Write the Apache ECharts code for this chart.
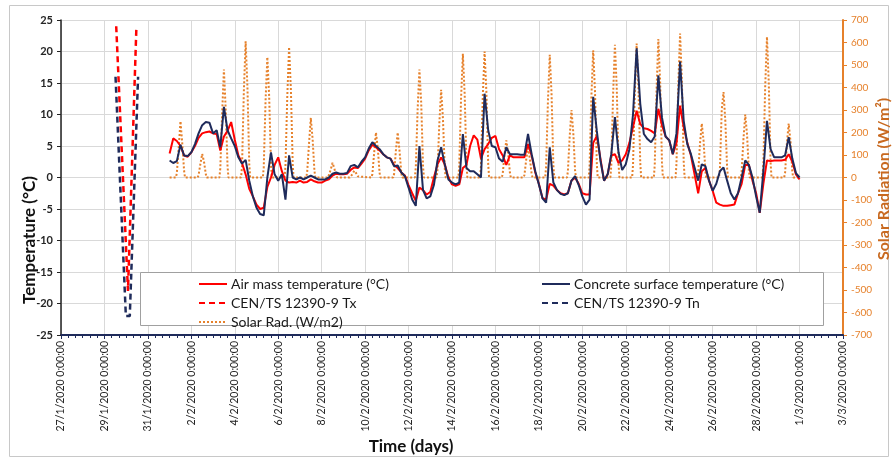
<!DOCTYPE html>
<html>
<head>
<meta charset="utf-8">
<script src="https://cdn.jsdelivr.net/npm/echarts@6/dist/echarts.min.js"></script>
<style>
  html, body { margin: 0; padding: 0; background: #fff; }
  #chart { width: 893px; height: 461px; }
</style>
</head>
<body>
<div id="chart"></div>
<script>
// readings every 4 h from 1/2/2020 0:00 to 1/3/2020 0:00
const airTemp = [
  3.8, 6.2, 5.8, 5.0, 3.5, 3.3,
  4.0, 5.0, 6.3, 7.0, 7.2, 7.3,
  7.0, 6.9, 4.3, 6.5, 7.4, 8.8,
  6.0, 3.5, 2.3, 0.5, -1.8, -3.0,
  -4.3, -5.0, -4.8, -1.5, 0.0, 2.0,
  3.2, 1.0, -0.5, -0.8, -0.7, -0.8,
  -0.5, -0.8, -0.7, -0.3, -0.6, -0.8,
  -0.8, -0.5, -0.3, 0.3, 0.6, 0.5,
  0.5, 0.6, 1.2, 1.6, 1.5, 2.2,
  3.0, 4.3, 5.2, 4.8, 4.3, 3.7,
  3.2, 3.0, 2.0, 1.5, 0.8, 0.3,
  -1.2, -2.5, -3.7, -1.6, -2.0, -2.7,
  -2.3, 0.0, 2.1, 3.2, 2.1, 0.0,
  -1.1, -1.3, -1.1, 1.5, 2.0, 5.0,
  6.7, 6.0, 3.0, 4.5, 5.3, 6.3,
  6.6, 4.5, 3.5, 2.0, 3.5, 3.2,
  3.2, 3.2, 3.2, 5.3, 3.5, 0.8,
  -1.0, -3.3, -3.5, -1.0, -1.3, -2.0,
  -2.5, -2.7, -2.5, -0.5, 0.0, -1.0,
  -2.5, -2.7, -2.7, 5.5, 6.6, 3.0,
  -0.5, 0.5, 3.5, 3.7, 2.3, 2.7,
  3.7, 5.5, 8.0, 10.6, 8.5, 7.8,
  7.7, 7.4, 7.0, 10.9, 8.3, 6.5,
  5.9, 3.7, 5.5, 11.4, 8.0, 5.5,
  3.5, 0.5, -2.5, 1.0, 1.5, -0.5,
  -2.1, -4.0, -4.3, -4.5, -4.5, -4.4,
  -4.3, -2.5, -1.0, 2.0, 2.0, -0.5,
  -2.5, -5.6, -1.0, 2.7, 2.6, 2.7,
  2.7, 2.7, 2.8, 3.7, 2.5, 0.5,
  -0.3
];
const concreteTemp = [
  2.7, 2.3, 2.6, 5.2, 3.5, 3.4,
  4.0, 5.3, 7.0, 8.3, 8.8, 8.7,
  7.0, 7.5, 4.8, 11.2, 7.5, 6.2,
  5.0, 3.2, 2.2, 2.8, -0.5, -3.0,
  -4.8, -5.8, -6.0, 0.0, 4.0, 0.5,
  -0.5, 0.5, -3.5, 3.5, 0.0, -0.3,
  0.0, -0.3, 0.0, 0.3, 0.0, -0.3,
  -0.3, -0.3, 0.0, 0.6, 0.8, 0.6,
  0.6, 0.7, 1.8, 2.0, 1.6, 2.5,
  3.2, 4.6, 5.6, 5.0, 4.5, 3.7,
  3.2, 3.0, 1.8, 1.9, 0.8, 0.2,
  -1.6, -3.5, -4.5, 5.0, -2.0, -3.3,
  -3.0, -1.2, 2.7, 4.8, 2.1, -0.3,
  -0.8, -1.1, -0.8, 6.9, 1.5, 1.0,
  1.0, 0.5, 0.0, 13.3, 7.5, 5.0,
  4.8, 3.0, 2.5, 4.8, 3.7, 3.7,
  3.7, 3.6, 3.6, 6.9, 3.7, 1.0,
  -1.1, -3.3, -4.0, 4.8, -0.8, -2.0,
  -2.6, -2.8, -2.5, -0.5, 0.2, -1.2,
  -3.0, -4.3, -3.5, 12.8, 7.4, 2.7,
  -0.5, 0.5, 3.7, 9.6, 4.0, 1.2,
  2.1, 4.5, 10.0, 20.5, 11.7, 6.9,
  6.1, 5.6, 6.5, 16.2, 9.5, 6.5,
  5.9, 3.7, 7.0, 18.4, 9.0, 5.3,
  3.7, 1.6, -0.5, 2.1, 1.8, -0.5,
  -2.1, -1.0, 1.0, 1.6, -0.5, -2.5,
  -3.5, -2.5, 0.0, 2.7, 2.0, 0.0,
  -3.0, -5.6, 1.0, 9.0, 4.5, 3.2,
  3.2, 3.2, 3.5, 6.4, 3.0, 0.7,
  0.0
];
// daytime solar radiation per day (8h, 10h, 12h, 14h, 16h), zero at night
const solarHours = [8, 10, 12, 14, 16];
const solarDay = [
  [20, 130, 250, 150, 30],
  [10, 60, 105, 70, 15],
  [40, 280, 480, 300, 50],
  [50, 380, 605, 400, 60],
  [45, 340, 535, 360, 55],
  [50, 360, 580, 390, 60],
  [25, 150, 265, 170, 30],
  [5, 35, 65, 40, 10],
  [0, 15, 30, 20, 5],
  [15, 110, 200, 130, 20],
  [15, 120, 200, 120, 20],
  [45, 300, 480, 330, 50],
  [35, 240, 390, 260, 40],
  [50, 350, 550, 370, 55],
  [50, 360, 560, 380, 60],
  [15, 100, 165, 110, 20],
  [10, 80, 130, 85, 15],
  [50, 340, 545, 370, 55],
  [25, 180, 300, 200, 30],
  [50, 360, 565, 380, 60],
  [55, 370, 590, 400, 60],
  [55, 380, 595, 400, 65],
  [55, 390, 615, 420, 65],
  [60, 410, 640, 430, 70],
  [20, 150, 240, 160, 25],
  [35, 300, 380, 250, 40],
  [25, 170, 280, 190, 30],
  [60, 400, 625, 420, 65],
  [20, 150, 240, 160, 25]
];
// CEN/TS 12390-9 limit curves
const txTimes = [Date.UTC(2020, 0, 29, 13, 0), Date.UTC(2020, 0, 30, 2, 0), Date.UTC(2020, 0, 30, 4, 0), Date.UTC(2020, 0, 30, 11, 20)];
const txValues = [24, -18, -18, 24];
const tnTimes = [Date.UTC(2020, 0, 29, 12, 15), Date.UTC(2020, 0, 29, 23, 40), Date.UTC(2020, 0, 30, 4, 0), Date.UTC(2020, 0, 30, 13, 10)];
const tnValues = [16, -22, -22, 16];

const HOUR = 3600000, DAY = 86400000;
const start = Date.UTC(2020, 1, 1);

const airData = airTemp.map((v, i) => [start + i * 4 * HOUR, v]);
const concreteData = concreteTemp.map((v, i) => [start + i * 4 * HOUR, v]);
const solarData = [[start, 0]];
solarDay.forEach((vals, d) => {
  const t = start + d * DAY;
  solarData.push([t + 7 * HOUR, 0]);
  vals.forEach((v, k) => solarData.push([t + solarHours[k] * HOUR, v]));
  solarData.push([t + 17 * HOUR, 0]);
});
solarData.push([start + solarDay.length * DAY, 0]);
const txData = txTimes.map((t, i) => [t, txValues[i]]);
const tnData = tnTimes.map((t, i) => [t, tnValues[i]]);

const FONT = 'Lato';
const NAVY = '#1f2b5b';
const ORANGE = '#e6812b';

const legendCommon = {
  orient: 'vertical', top: 272, itemWidth: 28, itemHeight: 12, itemGap: 5, z: 6,
  itemStyle: { opacity: 0 },
  textStyle: { fontSize: 14, color: '#1a1a1a', fontFamily: FONT, padding: [0, 0, 0, -1] }
};

const chart = echarts.init(document.getElementById('chart'));
chart.setOption({
  animation: false,
  textStyle: { fontFamily: FONT },
  grid: { left: 61, right: 50, top: 20, bottom: 126 },
  graphic: [
    { type: 'rect', z: 0, shape: { x: 9.5, y: 5.5, width: 879, height: 451 }, style: { fill: 'none', stroke: '#c8c8c8', lineWidth: 1 } },
    { type: 'rect', z: 3, shape: { x: 140.5, y: 272.5, width: 683, height: 53 }, style: { fill: '#fff', stroke: '#a0a0a0', lineWidth: 1 } },
    { type: 'text', z: 5, x: 30, y: 240, rotation: Math.PI / 2,
      style: { text: 'Temperature (°C)', font: 'bold 17px ' + FONT, fill: '#111', textAlign: 'center', textVerticalAlign: 'middle' } },
    { type: 'text', z: 5, x: 884, y: 179, rotation: Math.PI / 2,
      style: { text: 'Solar Radiation (W/m²)', font: 'bold 16px ' + FONT, fill: '#c8691f', textAlign: 'center', textVerticalAlign: 'middle' } },
    { type: 'text', z: 5, x: 411, y: 447,
      style: { text: 'Time (days)', font: 'bold 17px ' + FONT, fill: '#111', textAlign: 'center', textVerticalAlign: 'middle' } }
  ],
  legend: [
    Object.assign({ data: ['Air mass temperature (°C)', 'CEN/TS 12390-9 Tx', 'Solar Rad. (W/m2)'], left: 193 }, legendCommon),
    Object.assign({ data: ['Concrete surface temperature (°C)', 'CEN/TS 12390-9 Tn'], left: 536 }, legendCommon)
  ],
  xAxis: {
    type: 'value',
    min: Date.UTC(2020, 0, 27),
    max: Date.UTC(2020, 2, 3),
    interval: 2 * DAY,
    axisLine: { onZero: false, lineStyle: { color: NAVY, width: 2 } },
    axisTick: { show: true, length: 4, lineStyle: { color: NAVY } },
    minorTick: { show: true, splitNumber: 6, length: 3, lineStyle: { color: NAVY } },
    axisLabel: {
      rotate: 90, fontSize: 10.5, color: '#222', margin: 6,
      formatter: v => {
        const d = new Date(v);
        return d.getUTCDate() + '/' + (d.getUTCMonth() + 1) + '/' + d.getUTCFullYear() + ' ' + d.getUTCHours() + ':00:00';
      }
    },
    splitLine: { show: true, lineStyle: { color: '#d9d9d9' } }
  },
  yAxis: [
    {
      type: 'value', min: -25, max: 25, interval: 5,
      axisLine: { show: true, lineStyle: { color: '#222', width: 1.5 } },
      axisTick: { show: true, length: 4, lineStyle: { color: '#222' } },
      axisLabel: { fontSize: 11, fontWeight: 'bold', color: '#262626', margin: 8 },
      splitLine: { show: true, lineStyle: { color: '#d9d9d9' } }
    },
    {
      type: 'value', min: -700, max: 700, interval: 100, position: 'right',
      axisLine: { show: true, lineStyle: { color: ORANGE, width: 2 } },
      axisTick: { show: true, length: 4, lineStyle: { color: ORANGE } },
      axisLabel: { fontSize: 10, color: ORANGE, margin: 8 },
      splitLine: { show: false }
    }
  ],
  series: [
    {
      name: 'Solar Rad. (W/m2)', type: 'line', yAxisIndex: 1, data: solarData,
      symbol: 'none', z: 2,
      lineStyle: { color: ORANGE, width: 2, type: 'dotted' }, itemStyle: { color: ORANGE }
    },
    {
      name: 'Air mass temperature (°C)', type: 'line', data: airData, symbol: 'none', z: 3,
      lineStyle: { color: '#ff0000', width: 2 }, itemStyle: { color: '#ff0000' }
    },
    {
      name: 'Concrete surface temperature (°C)', type: 'line', data: concreteData, symbol: 'none', z: 4,
      lineStyle: { color: NAVY, width: 2 }, itemStyle: { color: NAVY }
    },
    {
      name: 'CEN/TS 12390-9 Tx', type: 'line', data: txData, symbol: 'none', z: 4,
      lineStyle: { color: '#ff0000', width: 2.5, type: [6, 4] }, itemStyle: { color: '#ff0000' }
    },
    {
      name: 'CEN/TS 12390-9 Tn', type: 'line', data: tnData, symbol: 'none', z: 4,
      lineStyle: { color: NAVY, width: 2.5, type: [6, 4] }, itemStyle: { color: NAVY }
    }
  ]
});
</script>
</body>
</html>
